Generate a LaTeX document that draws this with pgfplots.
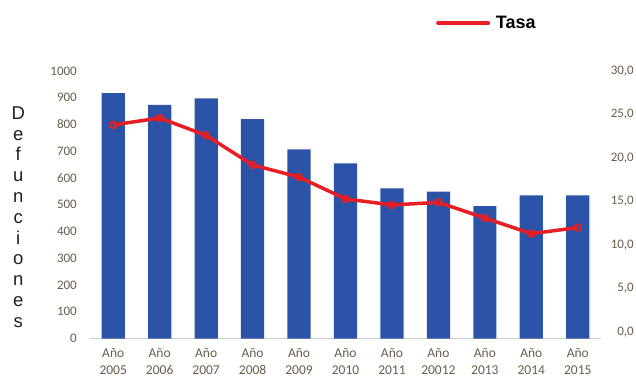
\documentclass[border=0pt]{standalone}
\usepackage{fontspec}
\setmainfont{Carlito}
\newfontfamily\arial{Liberation Sans}
\usepackage{pgfplots}
\pgfplotsset{compat=1.18}
\definecolor{barblue}{RGB}{43,84,168}
\definecolor{tasared}{RGB}{232,30,37}
\definecolor{ticktxt}{RGB}{105,92,78}
\definecolor{baseln}{RGB}{205,205,205}
\begin{document}
\begin{tikzpicture}
\useasboundingbox (0,0) rectangle (636bp,379bp);
\begin{axis}[
  at={(90bp,40.5bp)}, anchor=south west,
  scale only axis, width=511bp, height=267.5bp,
  xmin=-0.5, xmax=10.5, ymin=0, ymax=1000,
  axis x line*=bottom, axis y line*=left,
  x axis line style={-, draw=baseln, line width=0.8bp},
  y axis line style={draw=none},
  major tick length=0pt,
  xtick={0,1,2,3,4,5,6,7,8,9,10},
  xticklabels={{Año\\2005},{Año\\2006},{Año\\2007},{Año\\2008},{Año\\2009},{Año\\2010},{Año\\2011},{Año\\20012},{Año\\2013},{Año\\2014},{Año\\2015}},
  xticklabel style={align=center, inner sep=0pt, yshift=-10bp, text=ticktxt, font=\fontsize{13.5bp}{17bp}\selectfont},
  ytick={0,100,...,1000},
  yticklabel style={inner sep=0pt, xshift=-13bp, text=ticktxt, font=\fontsize{13bp}{15bp}\selectfont},
  /pgf/number format/assume math mode=true,
  /pgf/number format/1000 sep={},
]
\addplot[ybar, bar width=0.5, fill=barblue, draw=none] coordinates {
(0,917) (1,873) (2,898) (3,820) (4,707) (5,655) (6,561) (7,549) (8,495) (9,535) (10,535)};
\end{axis}
\begin{axis}[
  at={(90bp,40.5bp)}, anchor=south west,
  scale only axis, width=511bp, height=267.5bp,
  xmin=-0.5, xmax=10.5, ymin=-0.75, ymax=30,
  axis x line=none, axis y line*=right,
  y axis line style={draw=none},
  major tick length=0pt,
  ytick={0,5,...,30},
  yticklabel style={anchor=east, inner sep=0pt, xshift=33bp, text=ticktxt, font=\fontsize{13bp}{15bp}\selectfont,
    /pgf/number format/.cd, fixed, fixed zerofill, precision=1, use comma, assume math mode=true},
  legend style={at={(axis description cs:0.677,1.178)}, anchor=west, draw=none, fill=none, inner sep=0pt,
    font=\arial\bfseries\fontsize{18bp}{20bp}\selectfont},
  legend image code/.code={\draw[tasared, line width=4bp, line cap=round] (2bp,0bp) -- (52bp,0bp); \path (56bp,0bp);},
]
\addplot[tasared, line width=3.5bp, mark=o, mark size=3.5bp, mark options={line width=1.5bp}] coordinates {
(0,23.8) (1,24.6) (2,22.6) (3,19.2) (4,17.8) (5,15.3) (6,14.6) (7,14.9) (8,13.1) (9,11.3) (10,12.0)};
\addlegendentry{Tasa}
\end{axis}
\node[font=\arial\fontsize{18.5bp}{20.8bp}\selectfont, align=center, text=black!88, inner sep=0pt] at (18.3bp,162bp) {D\\e\\f\\u\\n\\c\\i\\o\\n\\e\\s};
\end{tikzpicture}
\end{document}
